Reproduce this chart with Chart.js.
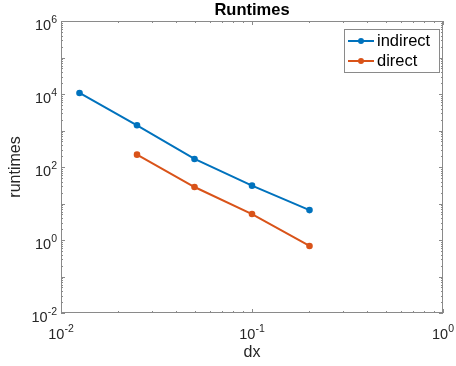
<!DOCTYPE html>
<html>
<head>
<meta charset="utf-8">
<script src="https://cdn.jsdelivr.net/npm/chart.js@4/dist/chart.umd.min.js"></script>
<style>
  html, body { margin: 0; padding: 0; background: #fff; }
  #wrap { width: 456px; height: 366px; }
</style>
</head>
<body>
<div id="wrap"><canvas id="c" width="456" height="366"></canvas></div>
<script>
// ---- data ----
const chartTitle = "Runtimes";
const xAxisTitle = "dx";
const yAxisTitle = "runtimes";
const seriesNames = ["indirect", "direct"];
const indirectDx = [0.0125, 0.025, 0.05, 0.1, 0.2];
const indirectRuntimes = [10700, 1390, 166, 30.8, 6.6];
const directDx = [0.025, 0.05, 0.1, 0.2];
const directRuntimes = [218, 28.3, 5.15, 0.685];
const xTickExponents = [-2, -1, 0];
const yTickExponents = [-2, 0, 2, 4, 6];
const xRange = [1e-2, 1e0];
const yRange = [1e-2, 1e6];

const COLORS = ["#0072BD", "#D95319"];
const FONT = '"Liberation Sans", Arial, Helvetica, sans-serif';
const TEXT = "#262626";
const AXIS = "#8a8a8a";

function toPoints(xs, ys) { return xs.map((x, i) => ({ x: x, y: ys[i] })); }

function decadeList(min, max) {
  const out = [];
  for (let e = Math.round(Math.log10(min)); e <= Math.round(Math.log10(max)); e++) out.push(e);
  return out;
}

function drawPow(ctx, exp, x, y, align) {
  const base = "10";
  const sup = exp < 0 ? "-" + Math.abs(exp) : String(exp);
  ctx.font = "14.5px " + FONT;
  const wb = ctx.measureText(base).width;
  ctx.font = "10.5px " + FONT;
  const ws = ctx.measureText(sup).width;
  const total = wb + ws;
  const left = align === "center" ? x - total / 2 : x - total;
  ctx.fillStyle = TEXT;
  ctx.textAlign = "left";
  ctx.textBaseline = "alphabetic";
  ctx.font = "14.5px " + FONT;
  ctx.fillText(base, left, y + 8);
  ctx.font = "10.5px " + FONT;
  ctx.fillText(sup, left + wb, y + 0.5);
}

const matlabPlugin = {
  id: "matlabAxes",
  afterDatasetsDraw(chart) {
    const ctx = chart.ctx;
    const a = chart.chartArea;
    const xs = chart.scales.x, ys = chart.scales.y;
    ctx.save();
    ctx.strokeStyle = AXIS;
    ctx.lineWidth = 1;
    ctx.strokeRect(a.left + 0.5, a.top + 0.5, a.right - a.left - 1, a.bottom - a.top - 1);
    ctx.beginPath();
    decadeList(xRange[0], xRange[1]).forEach(e => {
      for (let m = 1; m <= 9; m++) {
        const v = m * Math.pow(10, e);
        if (v < xRange[0] || v > xRange[1]) continue;
        const px = Math.round(xs.getPixelForValue(v)) + 0.5;
        const len = m === 1 ? 4 : 2;
        ctx.moveTo(px, a.bottom); ctx.lineTo(px, a.bottom - len);
        ctx.moveTo(px, a.top); ctx.lineTo(px, a.top + len);
      }
    });
    decadeList(yRange[0], yRange[1]).forEach(e => {
      for (let m = 1; m <= 9; m++) {
        const v = m * Math.pow(10, e);
        if (v < yRange[0] || v > yRange[1]) continue;
        const py = Math.round(ys.getPixelForValue(v)) + 0.5;
        const len = m === 1 ? 4 : 2;
        ctx.moveTo(a.left, py); ctx.lineTo(a.left + len, py);
        ctx.moveTo(a.right, py); ctx.lineTo(a.right - len, py);
      }
    });
    ctx.stroke();
    xTickExponents.forEach(e => {
      drawPow(ctx, e, xs.getPixelForValue(Math.pow(10, e)), a.bottom + 18, "center");
    });
    yTickExponents.forEach(e => {
      drawPow(ctx, e, a.left - 4, ys.getPixelForValue(Math.pow(10, e)) + 1, "right");
    });
    const cx = (a.left + a.right) / 2;
    ctx.fillStyle = "#000";
    ctx.textAlign = "center";
    ctx.textBaseline = "middle";
    ctx.font = "bold 16.5px " + FONT;
    ctx.fillText(chartTitle, cx, 10);
    ctx.fillStyle = TEXT;
    ctx.font = "16px " + FONT;
    ctx.fillText(xAxisTitle, cx, 353);
    ctx.save();
    ctx.translate(16, (a.top + a.bottom) / 2);
    ctx.rotate(-Math.PI / 2);
    ctx.fillText(yAxisTitle, 0, 0);
    ctx.restore();
    const lx = 344, ly = 29, lw = 95, lh = 43;
    ctx.fillStyle = "#fff";
    ctx.fillRect(lx, ly, lw, lh);
    ctx.strokeStyle = AXIS;
    ctx.lineWidth = 1;
    ctx.strokeRect(lx + 0.5, ly + 0.5, lw, lh);
    chart.data.datasets.forEach((ds, i) => {
      const y = 41 + i * 20;
      ctx.strokeStyle = ds.borderColor;
      ctx.lineWidth = 2;
      ctx.beginPath();
      ctx.moveTo(348, y); ctx.lineTo(374, y);
      ctx.stroke();
      ctx.fillStyle = ds.borderColor;
      ctx.beginPath();
      ctx.arc(361, y, 3, 0, Math.PI * 2);
      ctx.fill();
      ctx.fillStyle = "#000";
      ctx.textAlign = "left";
      ctx.textBaseline = "middle";
      ctx.font = "16.5px " + FONT;
      ctx.fillText(ds.label, 377, y);
    });
    ctx.restore();
  }
};

new Chart(document.getElementById("c"), {
  type: "line",
  data: {
    datasets: [
      { label: seriesNames[0], data: toPoints(indirectDx, indirectRuntimes), borderColor: COLORS[0], backgroundColor: COLORS[0] },
      { label: seriesNames[1], data: toPoints(directDx, directRuntimes), borderColor: COLORS[1], backgroundColor: COLORS[1] }
    ]
  },
  options: {
    responsive: false,
    animation: false,
    devicePixelRatio: 1,
    layout: { padding: { top: 21, right: 13, left: 0, bottom: 0 } },
    elements: {
      line: { borderWidth: 2, tension: 0 },
      point: { radius: 3.3, borderWidth: 0, hoverRadius: 3.3 }
    },
    plugins: { legend: { display: false }, title: { display: false }, tooltip: { enabled: false } },
    scales: {
      x: {
        type: "logarithmic", min: xRange[0], max: xRange[1],
        grid: { display: false }, border: { display: false }, ticks: { display: false },
        afterFit(s) { s.height = 53; }
      },
      y: {
        type: "logarithmic", min: yRange[0], max: yRange[1],
        grid: { display: false }, border: { display: false }, ticks: { display: false },
        afterFit(s) { s.width = 61; }
      }
    }
  },
  plugins: [matlabPlugin]
});
</script>
</body>
</html>
